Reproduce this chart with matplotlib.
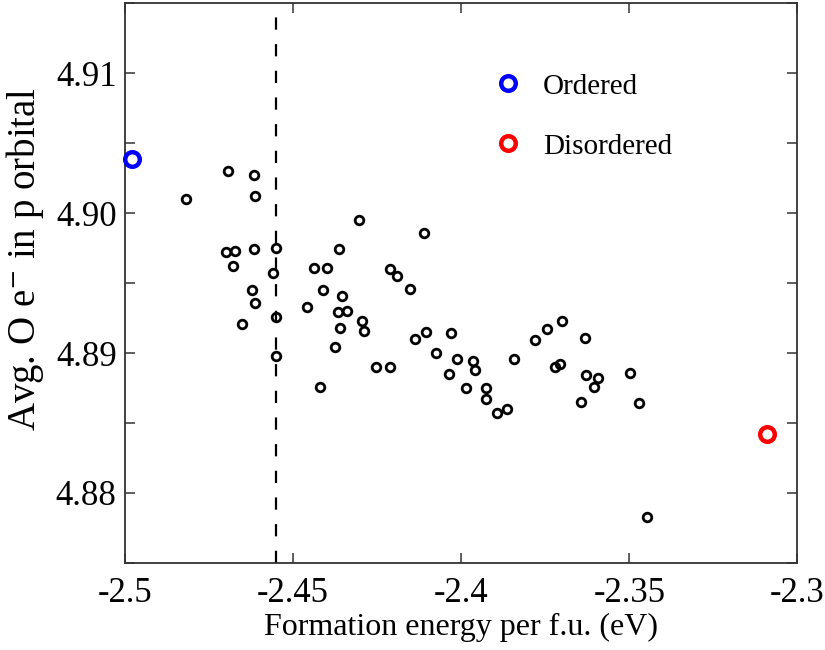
import numpy as np
from matplotlib import pyplot as plt
from matplotlib.ticker import MultipleLocator, FuncFormatter

plt.rcParams['font.family'] = ['Liberation Serif', 'DejaVu Serif']
plt.rcParams['mathtext.fontset'] = 'stix'
plt.rcParams['axes.unicode_minus'] = False

# Dati
energy = [-2.4818, -2.4693, -2.4617, -2.4614, -2.4699, -2.4672, -2.4617, -2.4551,
          -2.4679, -2.4560, -2.4623, -2.4613, -2.4653, -2.4551, -2.4551, -2.4438,
          -2.4400, -2.4410, -2.4458, -2.4420, -2.4362, -2.4304, -2.4355, -2.4365,
          -2.4339, -2.4294, -2.4288, -2.4359, -2.4376, -2.4254, -2.4211, -2.4211,
          -2.4190, -2.4153, -2.4110, -2.4136, -2.4105, -2.4029, -2.4075, -2.4012,
          -2.3966, -2.3959, -2.4037, -2.3987, -2.3926, -2.3926, -2.3864, -2.3892,
          -2.3844, -2.3779, -2.3745, -2.3699, -2.3633, -2.3722, -2.3707, -2.3630,
          -2.3594, -2.3604, -2.3644, -2.3499, -2.3470, -2.3447]
p_elec = [4.9010, 4.9030, 4.9027, 4.9012, 4.8972, 4.8973, 4.8974, 4.8975,
          4.8962, 4.8957, 4.8945, 4.8936, 4.8921, 4.8926, 4.8898, 4.8961,
          4.8961, 4.8945, 4.8933, 4.8876, 4.8974, 4.8995, 4.8941, 4.8929,
          4.8930, 4.8923, 4.8916, 4.8918, 4.8904, 4.8890, 4.8890, 4.8960,
          4.8955, 4.8946, 4.8986, 4.8910, 4.8915, 4.8914, 4.8900, 4.8896,
          4.8894, 4.8888, 4.8885, 4.8875, 4.8875, 4.8867, 4.8860, 4.8857,
          4.8896, 4.8909, 4.8917, 4.8923, 4.8911, 4.8890, 4.8892, 4.8884,
          4.8882, 4.8876, 4.8865, 4.8886, 4.8864, 4.8783]
ordered = (-2.498, 4.9039)
disordered = (-2.309, 4.8842)
cutoff = -2.455

xticks = [-2.5, -2.45, -2.4, -2.35, -2.3]
yticks = [4.88, 4.89, 4.90, 4.91]

fig = plt.figure(figsize=(8.25, 6.5), dpi=100)
ax = fig.add_axes([0.1515, 0.134, 0.815, 0.861])

ax.axvline(cutoff, color='k', lw=1.6, linestyle=(0, (5.5, 6.5)), zorder=1)
ax.plot(energy, p_elec, 'o', ms=6.2, mfc='none', mec='k', mew=2.0, zorder=3)
ax.plot(*ordered, 'o', ms=10.5, mfc='none', mec='#0000ff', mew=3.2, zorder=4,
        label='Ordered', clip_on=False)
ax.plot(*disordered, 'o', ms=10.5, mfc='none', mec='#ff0000', mew=3.2, zorder=4,
        label='Disordered')

ax.set_xlim(-2.5, -2.3)
ax.set_ylim(4.875, 4.915)
ax.set_xticks(xticks)
ax.xaxis.set_major_formatter(FuncFormatter(lambda v, p: ('%g' % v)))
ax.set_yticks(yticks)
ax.yaxis.set_major_formatter(FuncFormatter(lambda v, p: '%.2f' % v))
ax.yaxis.set_minor_locator(MultipleLocator(0.005))
ax.tick_params(which='both', direction='in', top=True, right=True,
               length=7, width=1.1, color='#333333', labelsize=25)
ax.tick_params(axis='x', pad=10)
ax.tick_params(axis='y', pad=6)
for s in ax.spines.values():
    s.set_color('#333333')
    s.set_linewidth(1.3)

ax.set_xlabel('Formation energy per f.u. (eV)', fontsize=23, labelpad=2)
ax.set_ylabel('Avg. O e$^{-}$ in p orbital', fontsize=28)
ax.yaxis.set_label_coords(-0.117, 0.543)

ax.legend(loc='upper left', bbox_to_anchor=(0.496, 0.922), frameon=False,
          fontsize=21, handletextpad=0.4, labelspacing=1.15, handlelength=1.6)

plt.savefig('out.png', dpi=100)
